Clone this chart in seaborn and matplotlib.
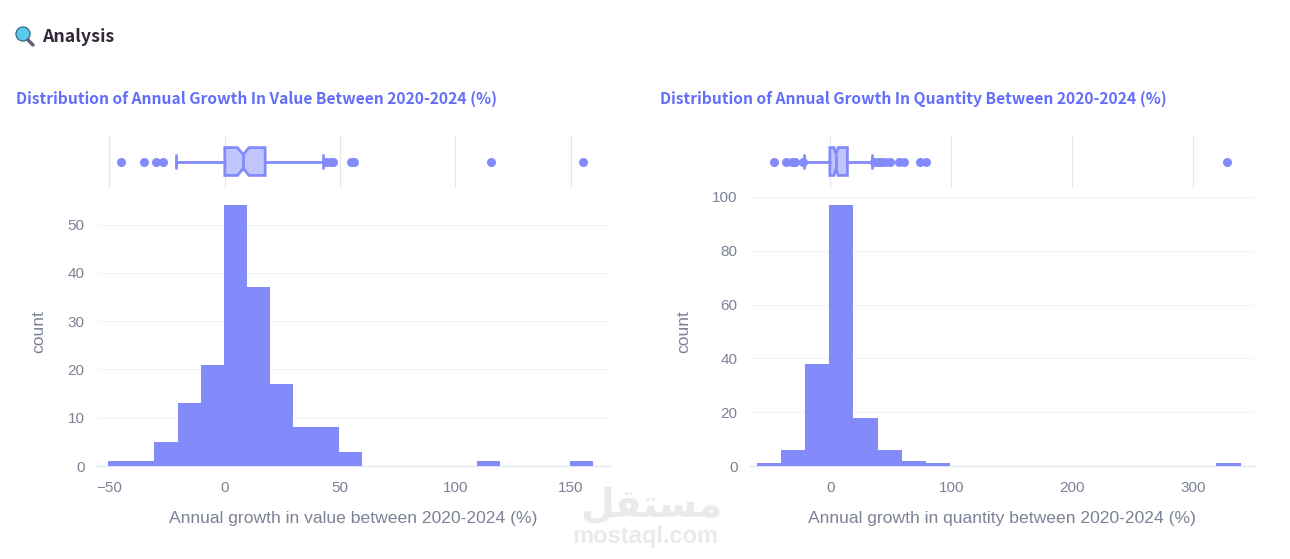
import matplotlib
matplotlib.use("Agg")
import matplotlib.pyplot as plt
import seaborn as sns
from matplotlib.patches import Circle
from matplotlib.lines import Line2D

# histogram bins
value_edges = [-50.5, -40.5, -30.5, -20.5, -10.5, -0.5, 9.5, 19.5, 29.5, 39.5, 49.5, 59.5,
               109.5, 119.5, 149.5, 159.5]
value_counts = [1, 1, 5, 13, 21, 54, 37, 17, 8, 8, 3, 0, 1, 0, 1]
qty_edges = [-61, -41, -21, -1, 19, 39, 59, 79, 99, 319, 339]
qty_counts = [1, 6, 38, 97, 18, 6, 2, 1, 0, 1]

# box summaries
value_box = dict(med=8, q1=0, q3=17.5, whislo=-21, whishi=42.5, cilo=5.5, cihi=10.5,
                 fliers=[-45, -35, -30, -27, 44, 45.5, 47, 54.5, 56, 115.5, 155.5])
qty_box = dict(med=4.5, q1=-0.5, q3=14, whislo=-21.5, whishi=34.5, cilo=3, cihi=6.5,
               fliers=[-47, -37, -32, -29, -23, 36, 39, 42, 45, 49, 57, 61, 74, 79, 328])

value_ticks = [-50, 0, 50, 100, 150]
qty_ticks = [0, 100, 200, 300]
value_yticks = [0, 10, 20, 30, 40, 50]
qty_yticks = [0, 20, 40, 60, 80, 100]

BAR = "#838BFB"
BOX_FILL = "#C1C5FD"
GRID = "#F0F2F8"
TICK = "#7C8296"
TITLE = "#636EFA"

W, H = 1290, 559

sns.set_theme(style="white")
plt.rcParams["font.family"] = ["Liberation Sans", "DejaVu Sans"]

fig = plt.figure(figsize=(W / 100, H / 100), dpi=100, facecolor="white")


def px_axes(left, top, right, bottom):
    return fig.add_axes([left / W, 1 - bottom / H, (right - left) / W, (bottom - top) / H])


def panel(left, right, xlim, ymax, edges, counts, box, xticks, yticks, xlabel, title, title_x):
    # histogram
    ax = px_axes(left, 197, right, 466)
    centers = [(a + b) / 2 for a, b in zip(edges[:-1], edges[1:])]
    sns.histplot(x=centers, weights=counts, bins=edges, color=BAR, alpha=1,
                 linewidth=0, edgecolor=BAR, ax=ax, zorder=3)
    ax.set_xlim(*xlim)
    ax.set_ylim(0, ymax)
    ax.set_xticks(xticks)
    ax.set_xticklabels([str(t).replace("-", "\u2212") for t in xticks])
    ax.set_yticks(yticks)
    ax.grid(axis="y", color=GRID, lw=0.8)
    ax.set_axisbelow(True)
    for s in ax.spines.values():
        s.set_visible(False)
    ax.spines["bottom"].set_visible(True)
    ax.spines["bottom"].set_color("#E3E8F3")
    ax.spines["bottom"].set_linewidth(1)
    ax.tick_params(axis="both", length=0, labelsize=11, labelcolor=TICK)
    ax.tick_params(axis="x", pad=10.5)
    ax.tick_params(axis="y", pad=9)
    ax.set_xlabel(xlabel, fontsize=12.6, color=TICK, labelpad=11.5)
    ax.set_ylabel("count", fontsize=12.6, color=TICK, labelpad=15)

    # marginal box on top
    top = px_axes(left, 135, right, 188)
    top.bxp([box], positions=[0], widths=1.05, vert=False, shownotches=True, patch_artist=True,
            capwidths=0.5,
            boxprops=dict(facecolor=BOX_FILL, edgecolor=BAR, linewidth=2),
            medianprops=dict(color=BAR, linewidth=2),
            whiskerprops=dict(color=BAR, linewidth=2),
            capprops=dict(color=BAR, linewidth=2),
            flierprops=dict(marker="o", markerfacecolor=BAR, markeredgecolor=BAR, markersize=5.5))
    top.set_xlim(*xlim)
    top.set_ylim(-1, 1)
    top.set_xticks(xticks)
    top.set_yticks([])
    top.tick_params(axis="x", length=0, labelbottom=False)
    top.grid(axis="x", color="#E4E7F0", lw=0.8)
    top.set_axisbelow(True)
    for s in top.spines.values():
        s.set_visible(False)
    top.patch.set_alpha(0)

    fig.text(title_x / W, 1 - 99 / H, title, fontsize=11.25, fontweight="bold", color=TITLE,
             family=["Noto Sans CJK SC", "DejaVu Sans"], va="center", ha="left")


panel(97, 610, (-55.4, 167), 55.7, value_edges, value_counts, value_box, value_ticks, value_yticks,
      "Annual growth in value between 2020-2024 (%)",
      "Distribution of Annual Growth In Value Between 2020-2024 (%)", 16)
panel(750, 1254, (-66.5, 350), 100, qty_edges, qty_counts, qty_box, qty_ticks, qty_yticks,
      "Annual growth in quantity between 2020-2024 (%)",
      "Distribution of Annual Growth In Quantity Between 2020-2024 (%)", 660)

# header with small magnifier icon
overlay = fig.add_axes([0, 0, 1, 1], zorder=10)
overlay.set_xlim(0, W)
overlay.set_ylim(H, 0)
overlay.axis("off")
overlay.add_line(Line2D([28, 33], [40, 45], color="#6B5B7B", lw=2.5, solid_capstyle="round"))
overlay.add_patch(Circle((23, 34), 7, facecolor="#5CCBEA", edgecolor="#3A6E92", lw=1))
overlay.text(42, 37, "Analysis", fontsize=12.8, fontweight="bold", color="#33283A",
             family=["Noto Sans CJK SC", "DejaVu Sans"], va="center", ha="left")

# watermark
overlay.text(651, 506, "\uFEDE\uFED8\uFE98\uFEB4\uFEE3", fontsize=28, fontweight="bold", color="#EAEAEA",
             family=["DejaVu Sans"], va="center", ha="center")
overlay.text(645, 537, "mostaql.com", fontsize=17, fontweight="bold", color="#EAEAEA",
             family=["Liberation Sans", "DejaVu Sans"], va="center", ha="center")

fig.savefig("out.png", dpi=100, facecolor="white")
